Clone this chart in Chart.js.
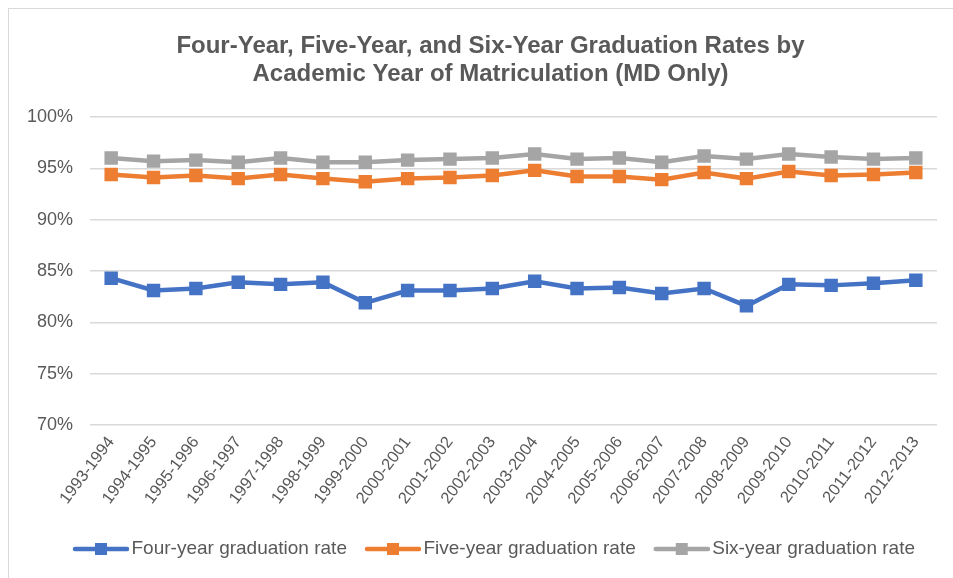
<!DOCTYPE html>
<html>
<head>
    <meta charset="utf-8">
    <title>Graduation Rates</title>
    <script src="https://cdn.jsdelivr.net/npm/chart.js@4.4.1/dist/chart.umd.min.js"></script>
    <style>
        body { margin: 0; background: #fff; overflow: hidden; }
        #frame { position: absolute; left: 8px; top: 8px; width: 980px; height: 600px; border: 1px solid #d9d9d9; }
        #chart { position: absolute; left: 0; top: 0; }
    </style>
</head>
<body>
    <div id="frame"></div>
    <canvas id="chart" width="953" height="578"></canvas>
    <script>
    // academic year of matriculation
    var years = ["1993-1994", "1994-1995", "1995-1996", "1996-1997", "1997-1998", "1998-1999", "1999-2000",
        "2000-2001", "2001-2002", "2002-2003", "2003-2004", "2004-2005", "2005-2006", "2006-2007",
        "2007-2008", "2008-2009", "2009-2010", "2010-2011", "2011-2012", "2012-2013"];
    var fourYear = [84.3, 83.1, 83.3, 83.9, 83.7, 83.9, 81.9, 83.1, 83.1, 83.3, 84.0, 83.3, 83.4, 82.8, 83.3, 81.6, 83.7, 83.6, 83.8, 84.1];
    var fiveYear = [94.4, 94.1, 94.3, 94.0, 94.4, 94.0, 93.7, 94.0, 94.1, 94.3, 94.8, 94.2, 94.2, 93.9, 94.6, 94.0, 94.7, 94.3, 94.4, 94.6];
    var sixYear = [96.0, 95.7, 95.8, 95.6, 96.0, 95.6, 95.6, 95.8, 95.9, 96.0, 96.4, 95.9, 96.0, 95.6, 96.2, 95.9, 96.4, 96.1, 95.9, 96.0];
    var seriesNames = ["Four-year graduation rate", "Five-year graduation rate", "Six-year graduation rate"];
    var colors = ["#4472C4", "#ED7D31", "#A5A5A5"];

    var textColor = "#595959";
    var font = "'Liberation Sans', Arial, sans-serif";

    // legend marker: line with a square in the middle
    function legendMarker(color) {
        var c = document.createElement("canvas");
        c.width = 70;
        c.height = 14;
        var g = c.getContext("2d");
        g.strokeStyle = color;
        g.lineWidth = 4.5;
        g.lineCap = "round";
        g.beginPath();
        g.moveTo(16, 7);
        g.lineTo(68, 7);
        g.stroke();
        g.fillStyle = color;
        g.fillRect(36, 1, 12, 12);
        return c;
    }

    function makeSet(i, values) {
        return {
            label: seriesNames[i],
            data: values,
            borderColor: colors[i],
            backgroundColor: colors[i],
            borderWidth: 4.5,
            pointStyle: "rect",
            pointRadius: 9.5,
            pointHoverRadius: 9.5,
            pointBorderWidth: 0,
            tension: 0
        };
    }

    var ctx = document.getElementById("chart").getContext("2d");
    var chart = new Chart(ctx, {
        type: "line",
        data: {
            labels: years,
            datasets: [makeSet(0, fourYear), makeSet(1, fiveYear), makeSet(2, sixYear)]
        },
        options: {
            responsive: false,
            animation: false,
            devicePixelRatio: 1,
            layout: { padding: { left: 44, right: 16, top: 33, bottom: 9.5 } },
            plugins: {
                title: {
                    display: true,
                    text: ["Four-Year, Five-Year, and Six-Year Graduation Rates by", "Academic Year of Matriculation (MD Only)"],
                    color: textColor,
                    font: { family: font, size: 24, weight: "bold", lineHeight: 1.15 },
                    padding: { top: 0, bottom: 28.8 }
                },
                legend: {
                    position: "bottom",
                    labels: {
                        color: textColor,
                        font: { family: font, size: 19 },
                        usePointStyle: true,
                        pointStyleWidth: 56,
                        padding: 11,
                        generateLabels: function(ch) {
                            return ch.data.datasets.map(function(ds, i) {
                                return {
                                    text: ds.label,
                                    fillStyle: colors[i],
                                    strokeStyle: colors[i],
                                    lineWidth: 0,
                                    pointStyle: legendMarker(colors[i]),
                                    fontColor: textColor,
                                    datasetIndex: i
                                };
                            });
                        }
                    }
                },
                tooltip: { enabled: false }
            },
            scales: {
                x: {
                    offset: true,
                    grid: { display: false },
                    border: { display: false },
                    ticks: {
                        color: textColor,
                        font: { family: font, size: 16.5 },
                        minRotation: 53,
                        maxRotation: 53,
                        autoSkip: false,
                        padding: 0
                    },
                    afterFit: function(s) { s.height = 103.5; }
                },
                y: {
                    min: 70,
                    max: 100,
                    grid: { color: "#d9d9d9", lineWidth: 1.5, drawTicks: false },
                    border: { display: false },
                    ticks: {
                        stepSize: 5,
                        color: textColor,
                        font: { family: font, size: 18 },
                        padding: 17,
                        callback: function(v) { return v + "%"; }
                    },
                    afterFit: function(s) {
                        s.width = 46;
                        // labels are wider than the narrow axis box, so don't clip them
                        s._computeLabelArea = function() {};
                    }
                }
            }
        }
    });
    </script>
</body>
</html>
